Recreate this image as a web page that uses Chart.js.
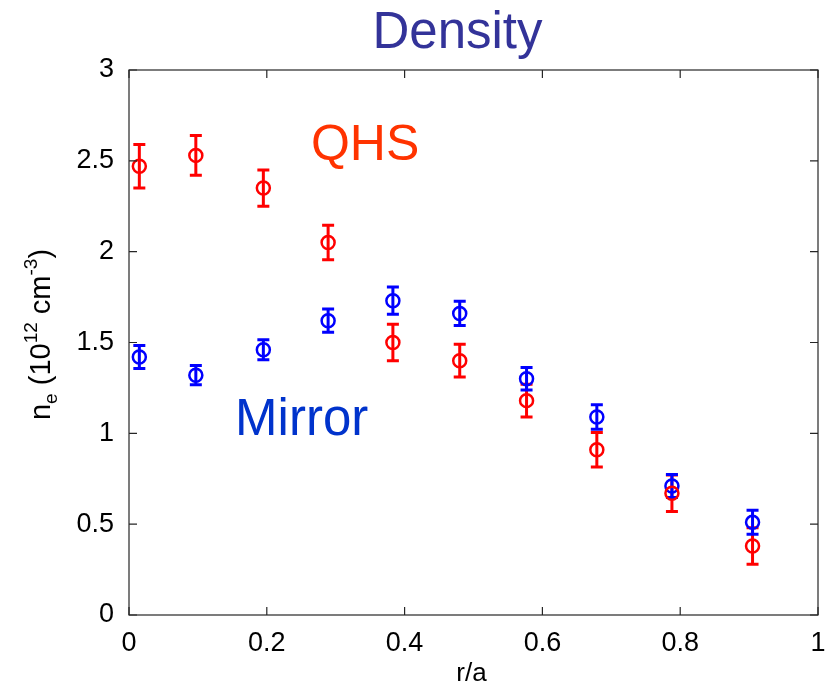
<!DOCTYPE html>
<html>
<head>
<meta charset="utf-8">
<script src="https://cdn.jsdelivr.net/npm/chart.js@4"></script>
<style>
  body { margin: 0; background: #fff; }
</style>
</head>
<body>
<canvas id="density_profile" width="827" height="685"></canvas>
<script>
// r/a positions of the measurements (same for both configurations)
const radius = [0.015, 0.097, 0.195, 0.289, 0.383, 0.48, 0.577, 0.679, 0.788, 0.905]

// n_e in 1e12 cm^-3, with error bar half-heights
const qhsDensity = [2.47, 2.53, 2.35, 2.05, 1.50, 1.40, 1.18, 0.91, 0.67, 0.38]
const qhsError = [0.12, 0.11, 0.10, 0.095, 0.10, 0.09, 0.09, 0.095, 0.10, 0.10]
const mirrorDensity = [1.42, 1.32, 1.46, 1.62, 1.73, 1.66, 1.30, 1.09, 0.71, 0.51]
const mirrorError = [0.063, 0.053, 0.055, 0.064, 0.075, 0.067, 0.062, 0.067, 0.063, 0.066]

const xTickLabels = ['0', '0.2', '0.4', '0.6', '0.8', '1']
const yTickLabels = ['0', '0.5', '1', '1.5', '2', '2.5', '3']

const FONT = '"Liberation Sans", Arial, Helvetica, sans-serif'

const toPoints = (values) => values.map((v, i) => ({ x: radius[i], y: v }))

// Vertical error bars with caps, drawn through the chart scales
const errorBars = {
    id: 'errorBars',
    beforeDatasetsDraw(chart) {
        const { ctx, scales: { x, y } } = chart
        chart.data.datasets.forEach((ds) => {
            ctx.save()
            ctx.strokeStyle = ds.borderColor
            ctx.lineWidth = 3
            ds.data.forEach((p, i) => {
                const px = x.getPixelForValue(p.x)
                const top = y.getPixelForValue(p.y + ds.errors[i])
                const bottom = y.getPixelForValue(p.y - ds.errors[i])
                ctx.beginPath()
                ctx.moveTo(px, top)
                ctx.lineTo(px, bottom)
                ctx.moveTo(px - 6, top)
                ctx.lineTo(px + 6, top)
                ctx.moveTo(px - 6, bottom)
                ctx.lineTo(px + 6, bottom)
                ctx.stroke()
            })
            ctx.restore()
        })
    }
}

// MATLAB style box with inward ticks on every side, plus the text labels
const frameAndText = {
    id: 'frameAndText',
    afterDraw(chart) {
        const { ctx, chartArea: area, scales: { x, y } } = chart
        ctx.save()
        ctx.strokeStyle = '#262626'
        ctx.lineWidth = 1.2
        ctx.strokeRect(area.left, area.top, area.right - area.left, area.bottom - area.top)
        ctx.beginPath()
        x.ticks.forEach((t) => {
            const px = x.getPixelForValue(t.value)
            ctx.moveTo(px, area.bottom)
            ctx.lineTo(px, area.bottom - 8)
            ctx.moveTo(px, area.top)
            ctx.lineTo(px, area.top + 8)
        })
        y.ticks.forEach((t) => {
            const py = y.getPixelForValue(t.value)
            ctx.moveTo(area.left, py)
            ctx.lineTo(area.left + 8, py)
            ctx.moveTo(area.right, py)
            ctx.lineTo(area.right - 8, py)
        })
        ctx.stroke()

        // title
        ctx.fillStyle = '#333399'
        ctx.font = '51px ' + FONT
        ctx.textAlign = 'center'
        ctx.textBaseline = 'alphabetic'
        ctx.fillText('Density', (area.left + area.right) / 2 - 16, 48)

        // in-plot labels
        ctx.textAlign = 'left'
        ctx.fillStyle = '#ff3300'
        ctx.font = '50px ' + FONT
        ctx.fillText('QHS', x.getPixelForValue(0.264), y.getPixelForValue(2.507))
        ctx.fillStyle = '#0033cc'
        ctx.font = '51px ' + FONT
        ctx.fillText('Mirror', x.getPixelForValue(0.154), y.getPixelForValue(0.992))

        // x label
        ctx.fillStyle = '#000'
        ctx.font = '26px ' + FONT
        ctx.textAlign = 'center'
        ctx.fillText('r/a', (area.left + area.right) / 2 - 2, 681)

        // y label with sub/superscripts, rotated
        const parts = [
            { t: 'n', size: 29, shift: 0 },
            { t: 'e', size: 19, shift: 7 },
            { t: ' (10', size: 29, shift: 0 },
            { t: '12', size: 19, shift: -13 },
            { t: ' cm', size: 29, shift: 0 },
            { t: '-3', size: 19, shift: -13 },
            { t: ')', size: 29, shift: 0 }
        ]
        let total = 0
        parts.forEach((p) => {
            ctx.font = p.size + 'px ' + FONT
            p.w = ctx.measureText(p.t).width
            total += p.w
        })
        ctx.translate(50, (area.top + area.bottom) / 2 - 8)
        ctx.rotate(-Math.PI / 2)
        ctx.textAlign = 'left'
        let cx = -total / 2
        parts.forEach((p) => {
            ctx.font = p.size + 'px ' + FONT
            ctx.fillText(p.t, cx, p.shift)
            cx += p.w
        })
        ctx.restore()
    }
}

const ctx = document.querySelector('#density_profile').getContext('2d')

new Chart(ctx, {
    type: 'scatter',
    data: {
        datasets: [
            {
                label: 'QHS',
                data: toPoints(qhsDensity),
                errors: qhsError,
                borderColor: '#ff0000',
                backgroundColor: 'rgba(0, 0, 0, 0)',
                pointRadius: 6.5,
                pointBorderWidth: 2.5,
                pointHoverRadius: 6.5
            },
            {
                label: 'Mirror',
                data: toPoints(mirrorDensity),
                errors: mirrorError,
                borderColor: '#0000ff',
                backgroundColor: 'rgba(0, 0, 0, 0)',
                pointRadius: 6.5,
                pointBorderWidth: 2.5,
                pointHoverRadius: 6.5
            }
        ]
    },
    options: {
        responsive: false,
        animation: false,
        events: [],
        layout: {
            padding: { top: 70, right: 0, left: 0, bottom: 0 }
        },
        plugins: {
            legend: { display: false },
            title: { display: false },
            tooltip: { enabled: false }
        },
        scales: {
            x: {
                type: 'linear',
                min: 0,
                max: 1,
                grid: { display: false },
                border: { display: false },
                ticks: {
                    stepSize: 0.2,
                    padding: 4,
                    color: '#000',
                    font: { size: 27, family: FONT },
                    maxRotation: 0,
                    callback: (value) => xTickLabels[Math.round(value * 5)]
                },
                afterFit: (scale) => {
                    scale.height = 70
                    scale.paddingRight = 8
                }
            },
            y: {
                type: 'linear',
                min: 0,
                max: 3,
                grid: { display: false },
                border: { display: false },
                ticks: {
                    stepSize: 0.5,
                    padding: 7,
                    color: '#000',
                    font: { size: 27, family: FONT },
                    callback: (value) => yTickLabels[Math.round(value * 2)]
                },
                afterFit: (scale) => { scale.width = 129 }
            }
        }
    },
    plugins: [errorBars, frameAndText]
})
</script>
</body>
</html>
